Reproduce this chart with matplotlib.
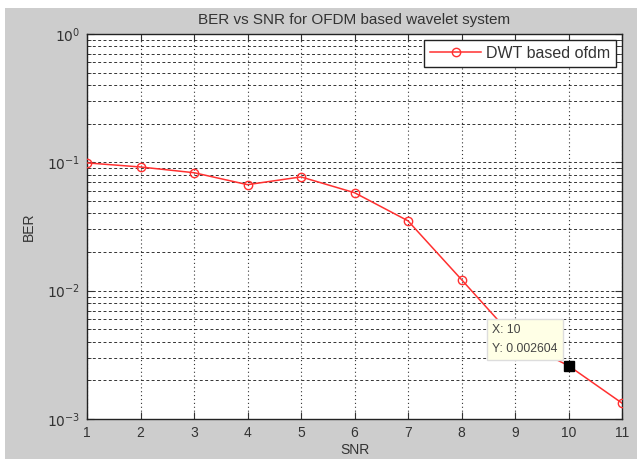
import matplotlib
matplotlib.use('Agg')

import numpy as np
import matplotlib.pyplot as plt
from matplotlib.patches import Rectangle

# data
snr = [1, 2, 3, 4, 5, 6, 7, 8, 9, 10, 11]
ber = [0.099, 0.092, 0.083, 0.067, 0.077, 0.058, 0.035, 0.0122, 0.0042, 0.002604, 0.00133]
tip_x = 10
tip_y = 0.002604
yticks = [1e-3, 1e-2, 1e-1, 1e0]
ytick_labels = ['$10^{-3}$', '$10^{-2}$', '$10^{-1}$', '$10^{0}$']

plt.rcParams['font.family'] = ['Liberation Sans', 'DejaVu Sans']

fig = plt.figure(figsize=(6.37, 4.59), dpi=100)
fig.patch.set_facecolor('white')
# matlab grey window area
fig.patches.append(Rectangle((5 / 637, 0), 1, 1 - 8 / 459, transform=fig.transFigure,
                             facecolor='#cdcdcd', edgecolor='none', zorder=-10))

ax = fig.add_axes([87 / 637, 1 - 419 / 459, (622 - 87) / 637, (419 - 34) / 459])
ax.set_facecolor('white')
ax.set_yscale('log')
ax.set_xlim(1, 11)
ax.set_ylim(1e-3, 1e0)

ax.plot(snr, ber, color='#ff3030', linewidth=1.1, marker='o', markersize=6,
        markerfacecolor='none', markeredgecolor='#ff3030', label='DWT based ofdm', zorder=3)

# grid like matlab
ax.grid(True, which='major', axis='x', color='#333333', linestyle=(0, (1, 2.5)), linewidth=0.8)
ax.grid(True, which='both', axis='y', color='#333333', linestyle=(0, (3, 2.5)), linewidth=0.7)

ax.set_xticks(snr)
ax.set_yticks(yticks)
ax.set_yticklabels(ytick_labels)
ax.tick_params(which='both', direction='in', top=True, right=True, labelsize=10, colors='#333333')
ax.tick_params(which='major', length=5, pad=5)
ax.tick_params(which='minor', length=3)
for side in ax.spines.values():
    side.set_color('#222222')
    side.set_linewidth(1.0)

ax.set_title('BER vs SNR for OFDM based wavelet system', fontsize=11, color='#333333', pad=7)
ax.set_xlabel('SNR', fontsize=10, color='#333333', labelpad=2)
ax.set_ylabel('BER', fontsize=10, color='#333333', labelpad=8)

leg = ax.legend(loc='upper right', fontsize=11.5, fancybox=False, framealpha=1,
                edgecolor='#222222', borderpad=0.35, handlelength=3.2, handletextpad=0.3,
                borderaxespad=0.4)
for t in leg.get_texts():
    t.set_color('#333333')

# data tip
ax.plot([tip_x], [tip_y], marker='s', color='black', markersize=7, zorder=5)
ax.annotate('X: 10\nY: 0.002604', xy=(tip_x, tip_y), xytext=(-11, 11),
            textcoords='offset pixels', ha='right', va='bottom', multialignment='left',
            fontsize=8.8, color='#444444', linespacing=1.7, zorder=6,
            bbox=dict(boxstyle='square,pad=0.45', facecolor='#ffffe6', edgecolor='#dddddd'))

fig.savefig('out.png', dpi=100)
